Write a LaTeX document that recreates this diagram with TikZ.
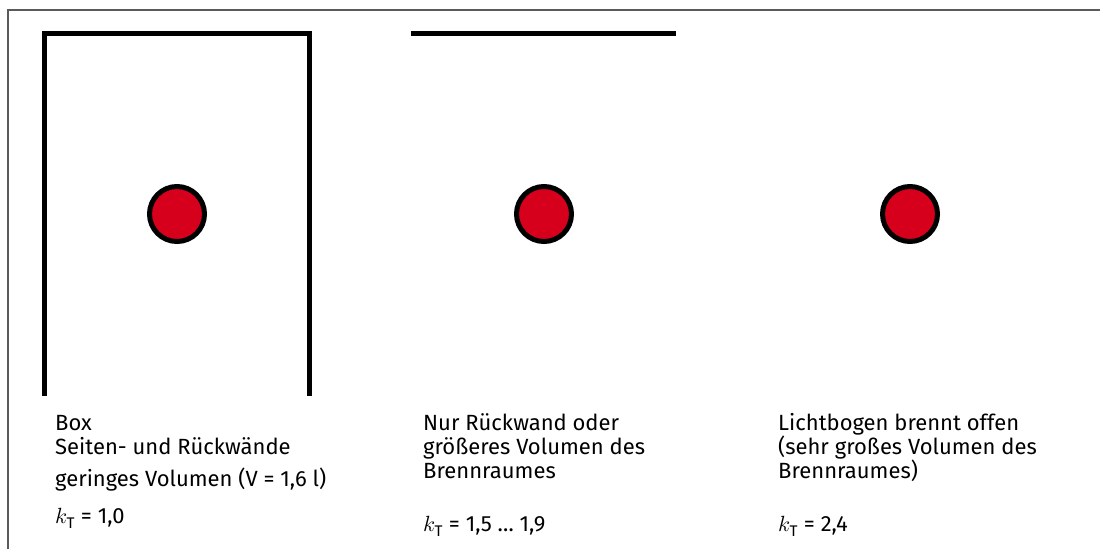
\documentclass[tikz,border=0pt]{standalone}
\usepackage{fontspec}
\usepackage{unicode-math}
\setmainfont{Fira Sans}
\setmathfont{Latin Modern Math}
\usepackage{xcolor}
\usetikzlibrary{positioning}
\definecolor{arcred}{RGB}{214,0,28}
\definecolor{framegray}{RGB}{90,90,90}

\begin{document}
\begin{tikzpicture}[
    x=1pt,y=-1pt,
    wall/.style={line width=5pt,line join=miter,line cap=butt},
    arc/.style={circle,draw=black,fill=arcred,line width=5pt,
      minimum size=55pt,inner sep=0pt},
    caption/.style={anchor=base west,align=left,inner sep=0pt,
      font=\fontsize{22}{24}\selectfont},
    frame/.style={draw=framegray,line width=1.5pt}
  ]
    \useasboundingbox (0,0) rectangle (1100,549);
    % frame
    \draw[frame] (8,549) -- (8,10) -- (1100,10);
    % walls
    \draw[wall] (44,396) -- (44,33) -- (309,33) -- (309,396);
    \draw[wall] (411,33) -- (676,33);
    % arcs
    \node[arc] (arcbox) at (177,214) {};
    \node[arc] (arcwall) at (544,214) {};
    \node[arc] (arcopen) at (910,214) {};
    % captions (anchored at the baseline of the last line)
    \node[caption] (capbox) at (55,523)
      {Box\\Seiten- und Rückwände\\[8pt]geringes Volumen (V = 1,6 l)\\[13pt]$k_{\mathrm{T}}$ = 1,0};
    \node[caption] (capwall) at (423,531)
      {Nur Rückwand oder\\größeres Volumen des\\Brennraumes\\[29pt]$k_{\mathrm{T}}$ = 1,5 … 1,9};
    \node[caption] (capopen) at (778,531)
      {Lichtbogen brennt offen\\(sehr großes Volumen des\\Brennraumes)\\[29pt]$k_{\mathrm{T}}$ = 2,4};
  \end{tikzpicture}
\end{document}
